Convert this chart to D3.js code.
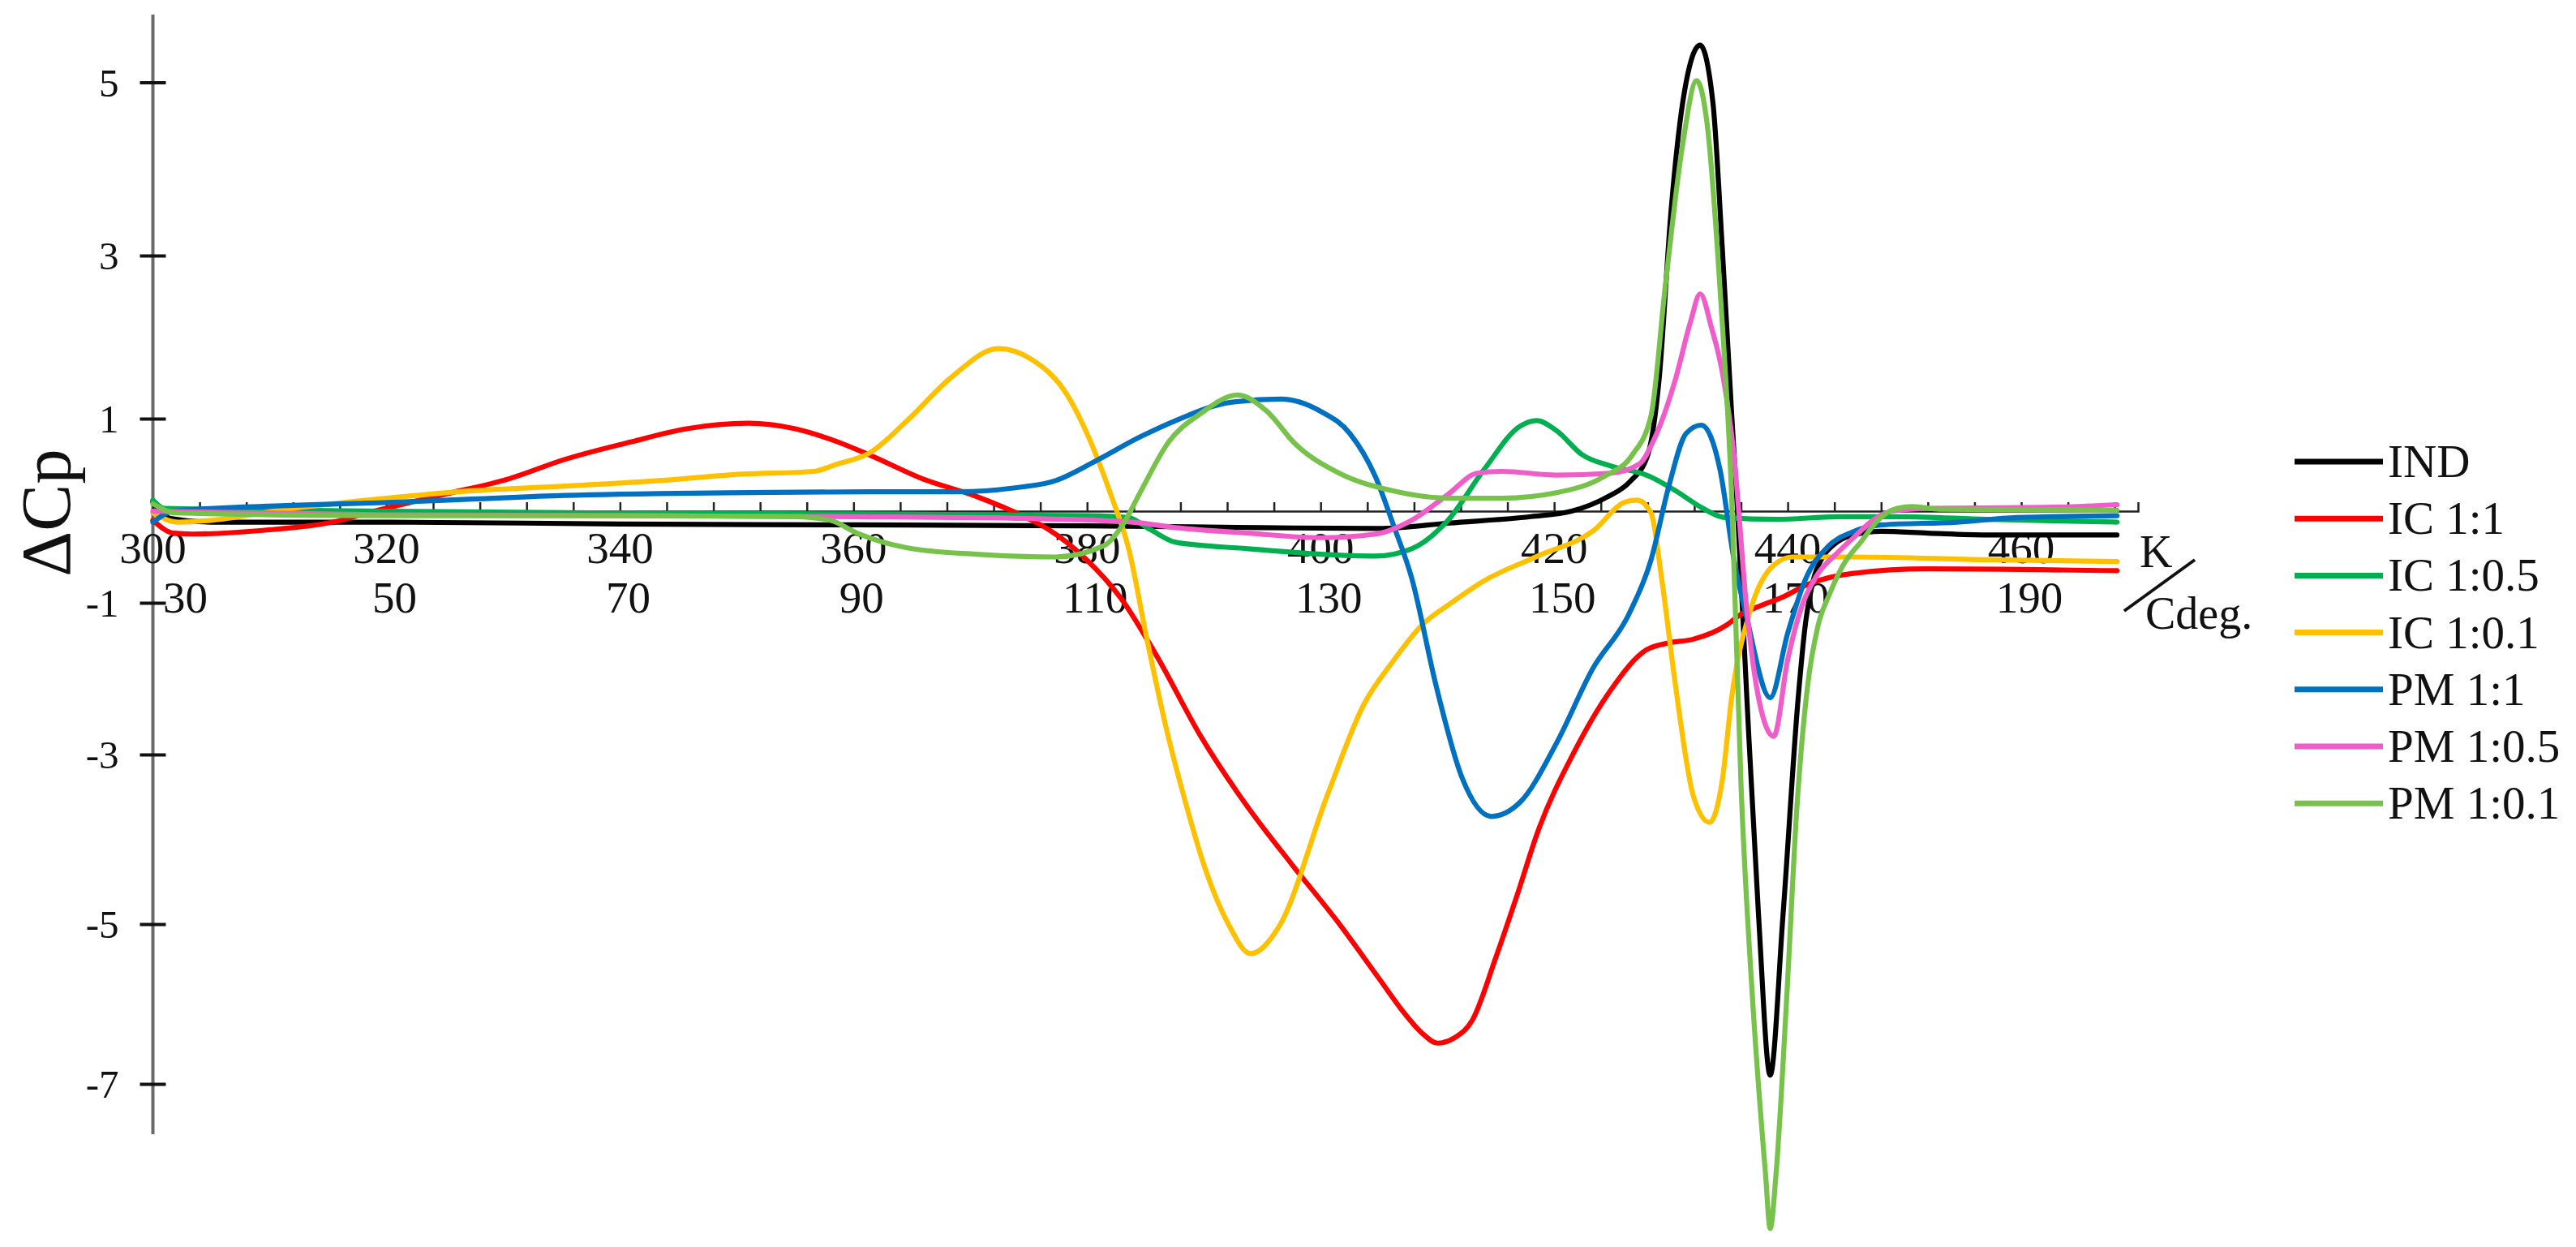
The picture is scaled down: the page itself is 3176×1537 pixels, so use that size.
<!DOCTYPE html>
<html>
<head>
<meta charset="utf-8">
<script src="https://cdn.jsdelivr.net/npm/d3@7"></script>
<style>
  html, body { margin: 0; padding: 0; background: #fff; }
  svg { display: block; font-family: "Liberation Serif", "Times New Roman", serif; }
</style>
</head>
<body>
<svg id="chart" width="3176" height="1537"></svg>
<script>
// series, [K, dCp]
var seriesNames = ["IND", "IC 1:1", "IC 1:0.5", "IC 1:0.1", "PM 1:1", "PM 1:0.5", "PM 1:0.1"];
var seriesColors = ["#000000", "#ff0000", "#00b050", "#ffc000", "#0070c0", "#f05cc8", "#77c24a"];

var ind = [[300,0.1],[301.5,-0.08],[305,-0.12],[320,-0.12],[340,-0.14],[360,-0.15],[380,-0.16],[395,-0.18],
  [405,-0.19],[411,-0.13],[418,-0.06],[421.5,0],[424.5,0.15],[426.5,0.32],[428,0.6],[429,1.5],[430,3.5],
  [431,4.76],[432.5,5.43],[433.6,4.76],[434.4,3.08],[435.2,1.06],[435.7,0],[436.5,-2.25],[437.5,-4.89],
  [438.5,-6.89],[439.6,-4.89],[440.9,-2.25],[441.5,-1.3],[442.2,-0.75],[443,-0.5],[444,-0.36],[445.3,-0.27],
  [448,-0.22],[452,-0.24],[457,-0.26],[468.2,-0.26]];

var ic11 = [[300,-0.1],[301.8,-0.24],[303.4,-0.25],[309.4,-0.21],[315.4,-0.12],[319.3,0.01],[324.9,0.18],
  [330.5,0.35],[335.3,0.56],[341,0.75],[345.7,0.89],[351,0.95],[355,0.89],[358.4,0.76],[361.5,0.6],[365.9,0.35],
  [370.5,0.16],[374.6,-0.06],[376.7,-0.2],[379.8,-0.51],[382.9,-0.95],[386,-1.71],[389.7,-2.75],[393.5,-3.57],
  [397.5,-4.29],[401.5,-4.98],[405,-5.68],[407.2,-6.12],[408.8,-6.38],[410,-6.49],[411.5,-6.42],[413,-6.2],
  [415,-5.42],[416.8,-4.67],[418.6,-3.91],[421.7,-2.97],[424.8,-2.16],[427.9,-1.62],[429.8,-1.53],[431.9,-1.48],
  [434.8,-1.29],[436,-1.15],[437.5,-1.05],[439.7,-0.93],[441.7,-0.8],[445.5,-0.68],[451.9,-0.63],[468.2,-0.65]];

var ic105 = [[300,0.12],[301,0.03],[320,0.0],[340,-0.02],[360,-0.03],[380,-0.05],[383.5,-0.07],[385.4,-0.2],
  [387.6,-0.34],[393.8,-0.41],[400,-0.47],[404.7,-0.49],[407.8,-0.41],[410.9,-0.1],[414,0.45],[417.1,0.92],
  [418.5,0.98],[420.2,0.87],[422.4,0.61],[424.8,0.49],[427.9,0.39],[430.4,0.22],[432.6,0.04],[434.6,-0.07],
  [439.1,-0.09],[444.3,-0.06],[449.4,-0.06],[457.1,-0.09],[468.2,-0.12]];

var ic101 = [[300,-0.02],[302.2,-0.12],[305,-0.1],[311.4,0.02],[319.3,0.13],[327.3,0.22],[335.3,0.27],
  [343.3,0.33],[350.4,0.4],[356.6,0.43],[358.4,0.5],[361.5,0.64],[364.6,0.98],[368.4,1.51],[372.4,1.86],
  [375.2,1.73],[378.3,1.29],[380.2,0.78],[382,0.19],[383.6,-0.43],[385.1,-1.46],[386.7,-2.6],[388.5,-3.6],
  [390,-4.3],[392.1,-5.0],[394,-5.37],[396.4,-5.04],[400.6,-3.47],[403.7,-2.34],[406.2,-1.77],[408.7,-1.29],
  [411.2,-1.0],[414,-0.76],[418.6,-0.49],[423.3,-0.22],[426.1,0.1],[427.1,0.12],[428.3,-0.02],[429.2,-0.73],
  [430.4,-2.1],[431.9,-3.48],[433.3,-3.8],[434.4,-3.3],[435.2,-2.25],[436.8,-1.1],[438.8,-0.59],[440.4,-0.5],
  [445.5,-0.5],[457,-0.53],[468.2,-0.55]];

var pm11 = [[300,-0.12],[301.8,0.0],[311.4,0.06],[319.3,0.09],[327.3,0.13],[335.3,0.17],[343.3,0.19],
  [351.2,0.2],[362,0.21],[369,0.21],[373.7,0.25],[377.3,0.33],[380.7,0.54],[384.5,0.8],[387.6,0.98],
  [392.3,1.2],[396.6,1.24],[400,1.09],[402.5,0.84],[404.7,0.37],[406.2,-0.14],[407.8,-0.73],[409.9,-2.1],
  [412.1,-3.27],[414.6,-3.73],[417.1,-3.56],[420.2,-2.85],[423.3,-1.87],[426.4,-1.15],[428.3,-0.53],
  [429.8,0.26],[431.3,0.84],[432.6,0.93],[434.2,0.45],[435.4,-0.53],[436.5,-1.2],[438.5,-2.25],[440,-1.4],
  [441.5,-0.75],[443.5,-0.38],[445.5,-0.23],[448.1,-0.15],[454.5,-0.12],[459.6,-0.07],[468.2,-0.05]];

var pm105 = [[300,0.0],[320,-0.04],[340,-0.05],[360,-0.06],[375,-0.08],[383.9,-0.12],[387.6,-0.18],
  [393.8,-0.24],[400,-0.29],[404.7,-0.25],[407.8,-0.1],[410.9,0.18],[413.4,0.41],[415.5,0.43],[420.2,0.39],
  [424.8,0.41],[427.3,0.51],[428.5,0.76],[430.4,1.49],[431.7,2.2],[432.5,2.53],[433.5,2.1],[434.4,1.57],
  [435.4,0.6],[436.5,-1.1],[437.5,-2.25],[438.8,-2.76],[440,-1.75],[441.2,-1.05],[442.5,-0.7],[444.3,-0.45],
  [445.8,-0.27],[447.4,-0.09],[448.9,0],[452,0.03],[462,0.04],[468.2,0.07]];

var pm101 = [[300,0.08],[302,-0.02],[320,-0.05],[340,-0.05],[355,-0.06],[358,-0.1],[360.3,-0.24],
  [364.6,-0.4],[370.5,-0.47],[377.3,-0.5],[381.4,-0.38],[383.2,-0.12],[384.5,0.19],[387,0.75],[389.7,1.06],
  [392.9,1.29],[395.4,1.09],[397.8,0.73],[401.6,0.41],[406.2,0.22],[411.2,0.14],[415.5,0.14],[420.2,0.2],
  [424.2,0.37],[426.7,0.61],[428.3,1.04],[429.5,2.6],[431,4.28],[432.2,5.02],[433.1,4.52],[434.2,2.6],
  [435.2,0.16],[436,-3.35],[437,-5.96],[438.1,-8.13],[438.5,-8.81],[439,-8.13],[439.9,-5.96],[440.8,-3.6],
  [441.7,-2.1],[442.6,-1.3],[443.6,-0.9],[444.7,-0.6],[446.3,-0.33],[447.8,-0.09],[449.4,0.03],[450.7,0.05],
  [453,0.02],[468.2,0.01]];

var allSeries = [ind, ic11, ic105, ic101, pm11, pm105, pm101];

// tick labels
var yTicks = [5, 3, 1, -1, -3, -5, -7];
var kTicks = [300, 320, 340, 360, 380, 400, 420, 440, 460];
var cTicks = [30, 50, 70, 90, 110, 130, 150, 170, 190];
var minorTicks = d3.range(300, 469, 4);

var svg = d3.select("#chart");
svg.append("rect").attr("width", 3176).attr("height", 1537).attr("fill", "#fff");

// x is plain linear, y follows the (slightly uneven) tick spacing of the original
var x = d3.scaleLinear().domain([300, 470]).range([188.5, 2636]);
var y = d3.scaleLinear()
  .domain([-7, -5, -3, -1, 0, 1, 3, 5])
  .range([1336, 1139, 930, 743, 630, 516, 315, 101.6]);

// y axis
svg.append("line")
  .attr("x1", x(300)).attr("x2", x(300))
  .attr("y1", 18).attr("y2", 1398)
  .attr("stroke", "#6a6a6a").attr("stroke-width", 4);

var yAxis = svg.append("g")
  .attr("transform", "translate(" + x(300) + ",0)")
  .call(d3.axisLeft(y).tickValues(yTicks).tickSize(16).tickPadding(26)
    .tickFormat(function(d) { return d; }));
yAxis.select(".domain").remove();
yAxis.selectAll(".tick line").attr("x1", -16).attr("x2", 16)
  .attr("stroke", "#111").attr("stroke-width", 4);
yAxis.selectAll(".tick text")
  .attr("font-family", "'Liberation Serif', 'Times New Roman', serif")
  .attr("font-size", 49).attr("fill", "#111").attr("dy", "0.34em");

// x axis at dCp = 0, minor ticks every 4 K pointing up
var xAxis = svg.append("g")
  .attr("transform", "translate(0," + y(0) + ")")
  .call(d3.axisTop(x).tickValues(minorTicks).tickSize(11).tickFormat(""));
xAxis.select(".domain").attr("stroke", "#222").attr("stroke-width", 2.5);
xAxis.selectAll(".tick line").attr("stroke", "#222").attr("stroke-width", 2.5);

// K labels and deg C labels
svg.append("g").selectAll("text").data(kTicks).enter()
  .append("text")
  .attr("x", function(d) { return x(d); })
  .attr("y", 694)
  .attr("text-anchor", "middle")
  .attr("font-size", 55).attr("fill", "#111")
  .text(function(d) { return d; });

svg.append("g").selectAll("text").data(cTicks).enter()
  .append("text")
  .attr("x", function(d) { return Math.max(x(d + 270) + 10, x(300) + 40); })
  .attr("y", 755)
  .attr("text-anchor", "middle")
  .attr("font-size", 55).attr("fill", "#111")
  .text(function(d) { return d; });

// unit labels at the end of the axis
svg.append("text").attr("x", 2638).attr("y", 699)
  .attr("font-size", 56).attr("fill", "#111").text("K");
svg.append("line")
  .attr("x1", 2619).attr("y1", 753).attr("x2", 2706).attr("y2", 690)
  .attr("stroke", "#111").attr("stroke-width", 4);
svg.append("text").attr("x", 2645).attr("y", 775)
  .attr("font-size", 56).attr("fill", "#111").text("Cdeg.");

// y caption
svg.append("text")
  .attr("transform", "translate(86,632) rotate(-90)")
  .attr("text-anchor", "middle")
  .attr("font-size", 87).attr("fill", "#111")
  .text("\u0394Cp");

// curves
var line = d3.line()
  .x(function(d) { return x(d[0]); })
  .y(function(d) { return y(d[1]); })
  .curve(d3.curveMonotoneX);

svg.append("g").selectAll("path").data(allSeries).enter()
  .append("path")
  .attr("d", line)
  .attr("fill", "none")
  .attr("stroke", function(d, i) { return seriesColors[i]; })
  .attr("stroke-width", 6.2)
  .attr("stroke-linejoin", "round")
  .attr("stroke-linecap", "round");

// legend
var legend = svg.append("g").selectAll("g").data(seriesNames).enter()
  .append("g")
  .attr("transform", function(d, i) { return "translate(0," + (569 + i * 70.2) + ")"; });
legend.append("line")
  .attr("x1", 2829).attr("x2", 2938)
  .attr("stroke", function(d, i) { return seriesColors[i]; })
  .attr("stroke-width", 7);
legend.append("text")
  .attr("x", 2944).attr("y", 19)
  .attr("font-size", 57).attr("fill", "#111")
  .text(function(d) { return d; });
</script>
</body>
</html>
